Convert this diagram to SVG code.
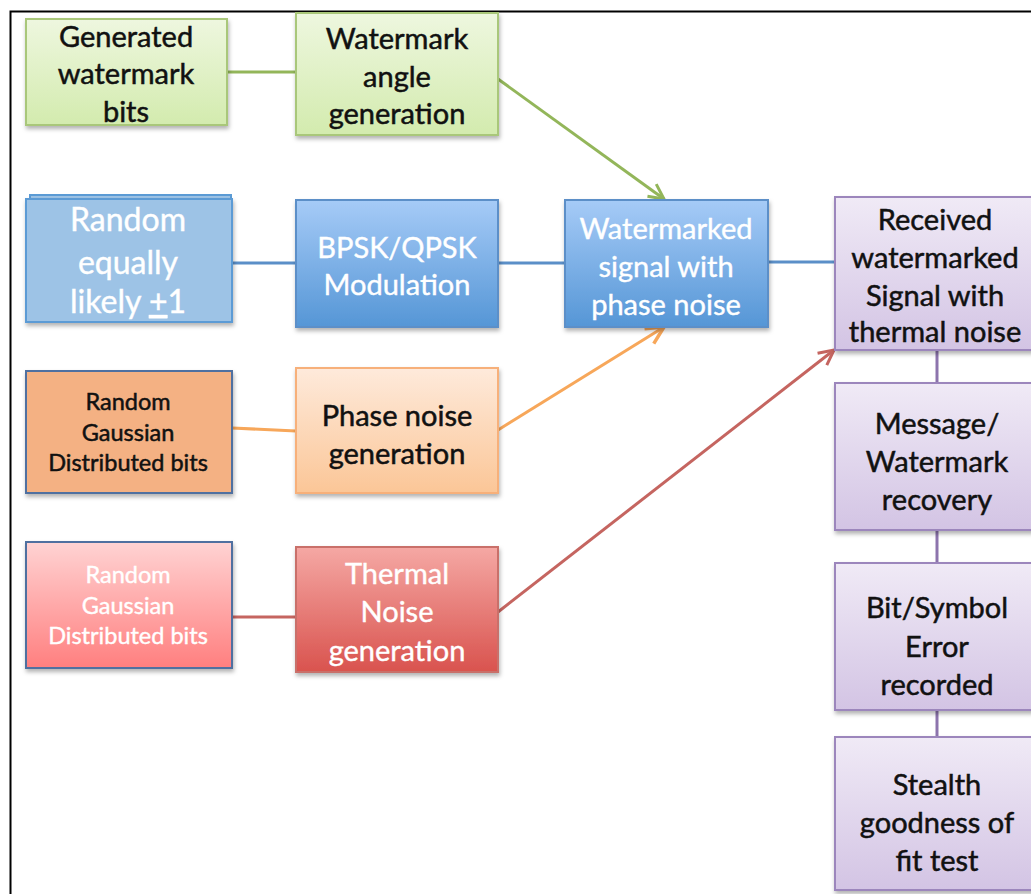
<svg xmlns="http://www.w3.org/2000/svg" width="1031" height="894" viewBox="0 0 1031 894">
<style>
text{font-family:Lato,"Open Sans","Liberation Sans",sans-serif;text-anchor:middle;font-size:29px}
.dk{fill:#111;stroke:#111;stroke-width:0.5}
.wt{fill:#fff;stroke:#fff;stroke-width:0.4}
.sm{font-size:23.5px}
.lg{font-size:32px}
.box{stroke-width:2}
.conn{fill:none;stroke-width:3}
</style>
<defs>
<filter id="sh" x="-10%" y="-10%" width="130%" height="130%"><feDropShadow dx="1" dy="3" stdDeviation="2" flood-color="#000" flood-opacity="0.3"/></filter>
<linearGradient id="gGreen" x1="0" y1="0" x2="0" y2="1"><stop offset="0" stop-color="#EEF7DF"/><stop offset="1" stop-color="#D3EBAE"/></linearGradient>
<linearGradient id="gBlue" x1="0" y1="0" x2="0" y2="1"><stop offset="0" stop-color="#A6CBF7"/><stop offset="1" stop-color="#5596D6"/></linearGradient>
<linearGradient id="gPurple" x1="0" y1="0" x2="0" y2="1"><stop offset="0" stop-color="#F0EAF6"/><stop offset="1" stop-color="#D3C4E4"/></linearGradient>
<linearGradient id="gOrange" x1="0" y1="0" x2="0" y2="1"><stop offset="0" stop-color="#FEEADB"/><stop offset="1" stop-color="#FBC697"/></linearGradient>
<linearGradient id="gRed" x1="0" y1="0" x2="0" y2="1"><stop offset="0" stop-color="#F5A8A4"/><stop offset="1" stop-color="#D9534E"/></linearGradient>
<linearGradient id="gPink" x1="0" y1="0" x2="0" y2="1"><stop offset="0" stop-color="#FFD3D3"/><stop offset="1" stop-color="#FF7F7F"/></linearGradient>
<marker id="aG" viewBox="0 0 12 12" refX="11" refY="6" markerWidth="6" markerHeight="6" orient="auto" markerUnits="strokeWidth"><path d="M1,1 L11,6 L1,11" fill="none" stroke="#93B65A" stroke-width="2"/></marker>
<marker id="aO" viewBox="0 0 12 12" refX="11" refY="6" markerWidth="7" markerHeight="7" orient="auto" markerUnits="strokeWidth"><path d="M1,1 L11,6 L1,11" fill="none" stroke="#F7A75A" stroke-width="2"/></marker>
<marker id="aR" viewBox="0 0 12 12" refX="11" refY="6" markerWidth="6" markerHeight="6" orient="auto" markerUnits="strokeWidth"><path d="M1,1 L11,6 L1,11" fill="none" stroke="#C56560" stroke-width="2"/></marker>
</defs>
<rect x="0" y="0" width="1031" height="894" fill="#fff"/>
<rect x="10.5" y="11.5" width="1040" height="900" fill="none" stroke="#000" stroke-width="2"/>

<g id="connectors">
<line class="conn" x1="227" y1="72" x2="296" y2="72" stroke="#93B65A"/>
<line class="conn" x1="232" y1="263" x2="296" y2="263" stroke="#5B8FC8"/>
<line class="conn" x1="498" y1="263" x2="565" y2="263" stroke="#5B8FC8"/>
<line class="conn" x1="768" y1="262" x2="835" y2="262" stroke="#5B8FC8"/>
<line class="conn" x1="232" y1="428" x2="296" y2="431" stroke="#F7A75A" stroke-width="2"/>
<line class="conn" x1="232" y1="617" x2="296" y2="617" stroke="#C56560"/>
<line class="conn" x1="498" y1="79" x2="664" y2="199" stroke="#93B65A" marker-end="url(#aG)"/>
<line class="conn" x1="498" y1="430" x2="664" y2="327" stroke="#F7A75A" stroke-width="2" marker-end="url(#aO)"/>
<line class="conn" x1="498" y1="612" x2="834" y2="350" stroke="#C56560" marker-end="url(#aR)"/>
<line class="conn" x1="937" y1="350" x2="937" y2="383" stroke="#8D74AD"/>
<line class="conn" x1="937" y1="530" x2="937" y2="563" stroke="#8D74AD"/>
<line class="conn" x1="937" y1="710" x2="937" y2="737" stroke="#8D74AD"/>
</g>

<g id="gen-bits">
<rect class="box" x="26" y="19" width="201" height="106" fill="url(#gGreen)" stroke="#A9C77A" filter="url(#sh)"/>
<text class="dk" x="126" y="47">Generated</text>
<text class="dk" x="126" y="84">watermark</text>
<text class="dk" x="126" y="122">bits</text>
</g>

<g id="angle-gen">
<rect class="box" x="296" y="13" width="202" height="122" fill="url(#gGreen)" stroke="#A9C77A" filter="url(#sh)"/>
<text class="dk" x="397" y="49">Watermark</text>
<text class="dk" x="397" y="87">angle</text>
<text class="dk" x="397" y="124">generation</text>
</g>

<g id="random-pm1">
<rect x="30" y="195" width="201" height="120" fill="#9DC3E6" stroke="#5B9BD5" stroke-width="2"/>
<rect class="box" x="26" y="199" width="206" height="123" fill="#9DC3E6" stroke="#5B9BD5" filter="url(#sh)"/>
<text class="wt lg" x="128" y="231">Random</text>
<text class="wt lg" x="128" y="274">equally</text>
<text class="wt lg" x="128" y="313">likely <tspan text-decoration="underline">+</tspan>1</text>
</g>

<g id="bpsk">
<rect class="box" x="296" y="200" width="202" height="127" fill="url(#gBlue)" stroke="#5B8FC8" filter="url(#sh)"/>
<text class="wt" x="397" y="258">BPSK/QPSK</text>
<text class="wt" x="397" y="295">Modulation</text>
</g>

<g id="wm-signal">
<rect class="box" x="565" y="200" width="203" height="127" fill="url(#gBlue)" stroke="#5B8FC8" filter="url(#sh)"/>
<text class="wt" x="666" y="239">Watermarked</text>
<text class="wt" x="666" y="277">signal with</text>
<text class="wt" x="666" y="315">phase noise</text>
</g>

<g id="received">
<rect class="box" x="835" y="197" width="210" height="153" fill="url(#gPurple)" stroke="#9C86BC" filter="url(#sh)"/>
<text class="dk" x="935" y="230">Received</text>
<text class="dk" x="935" y="268">watermarked</text>
<text class="dk" x="935" y="306">Signal with</text>
<text class="dk" x="935" y="342">thermal noise</text>
</g>

<g id="random-gauss-orange">
<rect class="box" x="26" y="371" width="206" height="122" fill="#F4B183" stroke="#4F6FA0" filter="url(#sh)"/>
<text class="dk sm" x="128" y="410">Random</text>
<text class="dk sm" x="128" y="441">Gaussian</text>
<text class="dk sm" x="128" y="471">Distributed bits</text>
</g>

<g id="phase-noise">
<rect class="box" x="296" y="368" width="202" height="125" fill="url(#gOrange)" stroke="#F7B07A" filter="url(#sh)"/>
<text class="dk" x="397" y="426">Phase noise</text>
<text class="dk" x="397" y="464">generation</text>
</g>

<g id="random-gauss-red">
<rect class="box" x="26" y="542" width="206" height="126" fill="url(#gPink)" stroke="#4F6FA0" filter="url(#sh)"/>
<text class="wt sm" x="128" y="583">Random</text>
<text class="wt sm" x="128" y="614">Gaussian</text>
<text class="wt sm" x="128" y="644">Distributed bits</text>
</g>

<g id="thermal-noise">
<rect class="box" x="296" y="547" width="202" height="125" fill="url(#gRed)" stroke="#C9706B" filter="url(#sh)"/>
<text class="wt" x="397" y="584">Thermal</text>
<text class="wt" x="397" y="622">Noise</text>
<text class="wt" x="397" y="661">generation</text>
</g>

<g id="recovery">
<rect class="box" x="835" y="383" width="210" height="147" fill="url(#gPurple)" stroke="#9C86BC" filter="url(#sh)"/>
<text class="dk" x="937" y="434">Message/</text>
<text class="dk" x="937" y="472">Watermark</text>
<text class="dk" x="937" y="510">recovery</text>
</g>

<g id="error">
<rect class="box" x="835" y="563" width="210" height="147" fill="url(#gPurple)" stroke="#9C86BC" filter="url(#sh)"/>
<text class="dk" x="937" y="618">Bit/Symbol</text>
<text class="dk" x="937" y="657">Error</text>
<text class="dk" x="937" y="695">recorded</text>
</g>

<g id="stealth">
<rect class="box" x="835" y="737" width="210" height="153" fill="url(#gPurple)" stroke="#9C86BC" filter="url(#sh)"/>
<text class="dk" x="937" y="795">Stealth</text>
<text class="dk" x="937" y="833">goodness of</text>
<text class="dk" x="937" y="871">fit test</text>
</g>
</svg>
